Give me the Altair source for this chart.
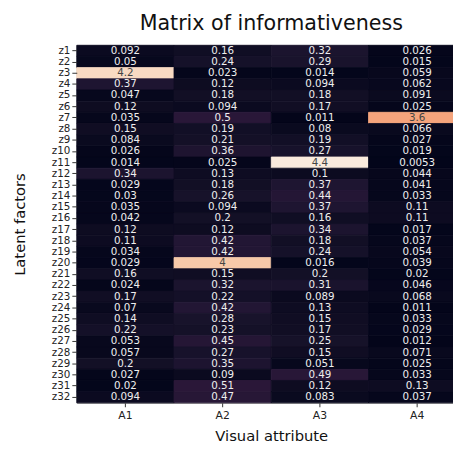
import altair as alt
import pandas as pd

factors = [f"z{i}" for i in range(1, 33)]
attributes = ["A1", "A2", "A3", "A4"]

a1 = [0.092, 0.05, 4.2, 0.37, 0.047, 0.12, 0.035, 0.15, 0.084, 0.026, 0.014, 0.34,
      0.029, 0.03, 0.035, 0.042, 0.12, 0.11, 0.034, 0.029, 0.16, 0.024, 0.17, 0.07,
      0.14, 0.22, 0.053, 0.057, 0.2, 0.027, 0.02, 0.094]
a2 = [0.16, 0.24, 0.023, 0.12, 0.18, 0.094, 0.5, 0.19, 0.21, 0.36, 0.025, 0.13,
      0.18, 0.26, 0.094, 0.2, 0.12, 0.42, 0.42, 4, 0.15, 0.32, 0.22, 0.42,
      0.28, 0.23, 0.45, 0.27, 0.35, 0.09, 0.51, 0.47]
a3 = [0.32, 0.29, 0.014, 0.094, 0.18, 0.17, 0.011, 0.08, 0.19, 0.27, 4.4, 0.1,
      0.37, 0.44, 0.37, 0.16, 0.34, 0.18, 0.24, 0.016, 0.2, 0.31, 0.089, 0.13,
      0.15, 0.17, 0.25, 0.15, 0.051, 0.49, 0.12, 0.083]
a4 = [0.026, 0.015, 0.059, 0.062, 0.091, 0.025, 3.6, 0.066, 0.027, 0.019, 0.0053, 0.044,
      0.041, 0.033, 0.11, 0.11, 0.017, 0.037, 0.054, 0.039, 0.02, 0.046, 0.068, 0.011,
      0.033, 0.029, 0.012, 0.071, 0.025, 0.033, 0.13, 0.037]

rocket = ["#03051a", "#35193e", "#701f57", "#ad1759", "#e13342",
          "#f37651", "#f6b48f", "#faebdd"]

rows = []
for attr, vals in zip(attributes, [a1, a2, a3, a4]):
    for f, v in zip(factors, vals):
        rows.append({"factor": f, "attribute": attr, "score": float(v),
                     "label": f"{v:g}"})
df = pd.DataFrame(rows)

vmin = float(min(a1 + a2 + a3 + a4))
vmax = float(max(a1 + a2 + a3 + a4))

base = alt.Chart(df).encode(
    x=alt.X("attribute:N", sort=attributes, title="Visual attribute",
            scale=alt.Scale(paddingInner=0, paddingOuter=0),
            axis=alt.Axis(labelAngle=0, labelFontSize=11, titleFontSize=15,
                          tickSize=4, labelPadding=3, titlePadding=8,
                          domain=False, grid=False, titleFontWeight="normal",
                          labelColor="#222222", titleColor="#111111",
                          tickColor="#333333")),
    y=alt.Y("factor:N", sort=factors, title="Latent factors",
            scale=alt.Scale(paddingInner=0, paddingOuter=0),
            axis=alt.Axis(labelFontSize=10.5, titleFontSize=15, tickSize=5,
                          labelPadding=2, titlePadding=24, domain=False,
                          grid=False, titleFontWeight="normal",
                          labelColor="#222222", titleColor="#111111",
                          tickColor="#333333")),
)

rect = base.mark_rect(strokeWidth=0.8).encode(
    color=alt.Color("score:Q", scale=alt.Scale(domain=[vmin, vmax], range=rocket),
                    legend=None),
    stroke=alt.Stroke("score:Q", scale=alt.Scale(domain=[vmin, vmax], range=rocket),
                      legend=None),
)

text_light = base.mark_text(fontSize=10.5, color="#eeeeee").encode(
    text="label:N"
).transform_filter(alt.datum.score <= 2)

text_dark = base.mark_text(fontSize=10.5, color="#444444").encode(
    text="label:N"
).transform_filter(alt.datum.score > 2)

chart = (rect + text_light + text_dark).properties(
    width=396, height=364,
    title=alt.TitleParams("Matrix of informativeness", fontSize=21,
                          fontWeight="normal", anchor="middle", offset=11,
                          color="#111111"),
    autosize=alt.AutoSizeParams(type="none"),
    padding={"left": 70, "top": 34, "right": -13, "bottom": 40},
).configure(font="DejaVu Sans").configure_view(stroke="#888888", strokeWidth=1)

chart.save("out.html", embed_options={"renderer": "svg", "actions": False})
